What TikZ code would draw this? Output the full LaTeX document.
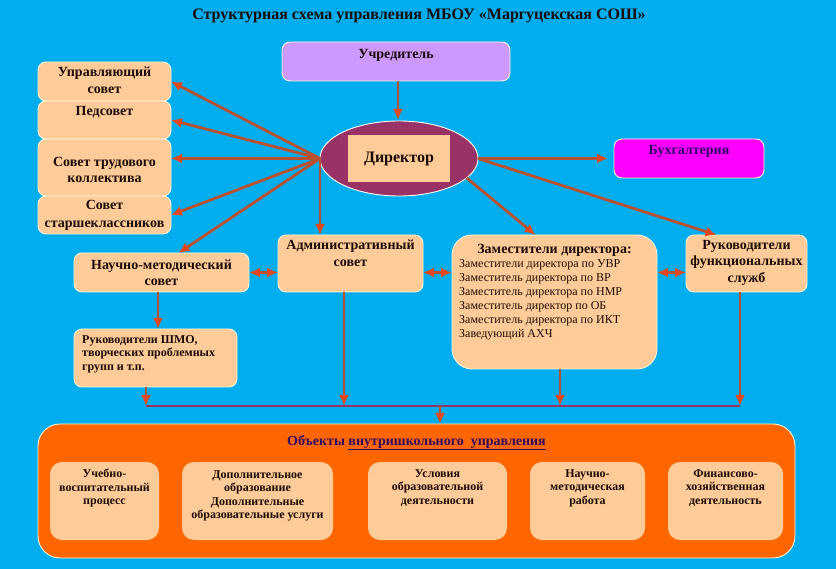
\documentclass[tikz,border=0pt]{standalone}
\usepackage{fontspec}
\setmainfont{Liberation Serif}
\usepackage{xcolor}
\usetikzlibrary{calc,arrows.meta,shapes.geometric}
\definecolor{bg}{HTML}{00ADEF}
\definecolor{peach}{HTML}{FFCC99}
\definecolor{rim}{HTML}{FFF6D8}
\definecolor{lilac}{HTML}{CC99FF}
\definecolor{magenta}{HTML}{FF00FF}
\definecolor{plum}{HTML}{993366}
\definecolor{orange}{HTML}{FF6600}
\definecolor{shaft}{HTML}{B9502F}
\definecolor{tip}{HTML}{E2481A}
\definecolor{ink}{HTML}{1A0A05}
\definecolor{navy}{HTML}{2E0A66}
\tikzset{
  panel/.style={draw=rim, line width=0.9pt, fill=peach, rounded corners=8pt, outer sep=0pt, inner sep=0pt},
  inner/.style={fill=peach, rounded corners=12pt, outer sep=0pt, inner sep=0pt},
  head/.style={font=\bfseries\fontsize{14}{16.4}\selectfont, text=ink, align=center, inner sep=0pt},
  small/.style={font=\bfseries\fontsize{12}{13.6}\selectfont, text=ink, align=center, inner sep=0pt},
  plain/.style={font=\fontsize{12}{14}\selectfont, text=ink, align=left, inner sep=0pt},
  link/.style={draw=shaft, line width=2.8pt, -{Latex[length=11pt,width=10pt,color=tip]}},
  twin/.style={draw=shaft, line width=2.8pt, {Latex[length=11pt,width=10pt,color=tip]}-{Latex[length=11pt,width=10pt,color=tip]}},
  busline/.style={draw=plum, line width=2.8pt}
}
\begin{document}
\begin{tikzpicture}[x=1pt,y=-1pt]
  \fill[bg] (0,0) rectangle (836,569);
  \useasboundingbox (0,0) rectangle (836,569);

  \node[head, font=\bfseries\fontsize{16}{18}\selectfont] (title) at (419,16) {Структурная схема управления МБОУ «Маргуцекская СОШ»};

  % left column
  \node[panel, minimum width=133pt, minimum height=39pt, label={[head,below=5pt]north:Управляющий\\совет}] (upr) at (104.5,81.5) {};
  \node[panel, minimum width=133pt, minimum height=38pt, label={[head,below=5pt]north:Педсовет}] (ped) at (104.5,120) {};
  \node[panel, minimum width=133pt, minimum height=57pt, head] (trud) at (104.5,167.5) {\\[-2pt]Совет трудового\\коллектива};
  \node[panel, minimum width=133pt, minimum height=38pt, label={[head,below=4pt]north:Совет\\[2pt]старшеклассников}] (star) at (104.5,215) {};

  % top and centre
  \node[panel, fill=lilac, minimum width=228pt, minimum height=39pt, label={[head,below=7pt]north:Учредитель}] (uch) at (396,61.5) {};
  \node[ellipse, draw=white, line width=0.9pt, fill=plum, minimum width=158pt, minimum height=75pt, outer sep=0pt] (dir) at (399,158.5) {};
  \node[fill=peach, minimum width=102pt, minimum height=47pt, head, font=\bfseries\fontsize{16}{18}\selectfont, inner sep=0pt] (dirbox) at (399,158.5) {Директор};
  \node[panel, fill=magenta, minimum width=150pt, minimum height=39pt, label={[head,text=navy,below=6pt]north:Бухгалтерия}] (buh) at (689,158.5) {};

  % middle row
  \node[panel, minimum width=175pt, minimum height=39pt, head] (nm) at (161.5,272.5) {Научно-методический\\совет};
  \node[panel, minimum width=145pt, minimum height=57pt, label={[head,below=5pt]north:Административный\\совет}] (adm) at (350.5,263.5) {};
  \node[panel, rounded corners=20pt, minimum width=205pt, minimum height=134pt, label={[head,below=9pt]north:Заместители директора:}] (zam) at (554.5,302) {};
  \node[plain, anchor=north west] (zamlist) at (459,259) {Заместители директора по УВР\\Заместитель директора по ВР\\Заместитель директора по НМР\\Заместитель директор по ОБ\\Заместитель директора по ИКТ\\Заведующий АХЧ};
  \node[panel, minimum width=121pt, minimum height=57pt, label={[head,below=5pt]north:Руководители\\функциональных\\служб}] (ruk) at (746.5,263.5) {};
  \node[panel, minimum width=163pt, minimum height=58pt, label={[small,align=left,anchor=north west]north west:{\hspace{8pt}\parbox[t]{150pt}{\vspace{6pt}Руководители ШМО,\\творческих проблемных\\групп и т.п.}}}] (shmo) at (155.5,358) {};

  % objects
  \node[panel, draw=rim, fill=orange, rounded corners=22pt, minimum width=757pt, minimum height=134pt, label={[head,text=navy,below=11pt]north:Объекты \underline{внутришкольного\ \ управления}}] (big) at (416.5,491) {};
  \node[inner, minimum width=109pt, minimum height=78pt, label={[small,below=7pt]north:Учебно-\\воспитательный\\процесс}] (ob1) at (104.5,501) {};
  \node[inner, minimum width=151pt, minimum height=78pt, label={[small,below=8pt]north:Дополнительное\\образование\\Дополнительные\\образовательные услуги}] (ob2) at (257.5,501) {};
  \node[inner, minimum width=139pt, minimum height=78pt, label={[small,below=7pt]north:Условия\\образовательной\\деятельности}] (ob3) at (437.5,501) {};
  \node[inner, minimum width=115pt, minimum height=78pt, label={[small,below=7pt]north:Научно-\\методическая\\работа}] (ob4) at (587.5,501) {};
  \node[inner, minimum width=115pt, minimum height=78pt, label={[small,below=7pt]north:Финансово-\\хозяйственная\\деятельность}] (ob5) at (725.5,501) {};

  % connectors from the director
  \draw[link] (uch.south -| 398,0) -- (398,120);
  \draw[link] (dir.west) -- (upr.east);
  \draw[link] (dir.west) -- (ped.east);
  \draw[link] (dir.west) -- (trud.east |- dir.west);
  \draw[link] (dir.west) -- (star.east);
  \draw[link] (dir.west) -- ($(nm.north)+(17,0)$);
  \draw[link] (dir.west) -- (dir.west |- adm.north);
  \draw[link] (dir.east) -- ($(buh.west)+(-6,0)$);
  \draw[link] (dir.east) -- ($(ruk.north)+(-30,0)$);
  \draw[link] (dir.-16) -- ($(zam.north)+(-19,0)$);

  % between the middle boxes
  \draw[twin] (nm.east) -- (adm.west |- nm.east);
  \draw[twin] (adm.east |- nm.east) -- (zam.west |- nm.east);
  \draw[twin] (zam.east |- nm.east) -- (ruk.west |- nm.east);
  \draw[link] (nm.south -| 158,0) -- (shmo.north -| 158,0);

  % common line down to the objects
  \coordinate (busl) at (146,406);
  \coordinate (busr) at (740,406);
  \draw[busline] (busl) -- (busr);
  \draw[link] (shmo.south -| busl) -- (busl);
  \draw[link] (adm.south -| 344,0) -- (344,406);
  \draw[link] (zam.south -| 560,0) -- (560,406);
  \draw[link] (ruk.south -| busr) -- (busr);
  \draw[link] (440,406) -- (big.north -| 440,0);
\end{tikzpicture}
\end{document}
